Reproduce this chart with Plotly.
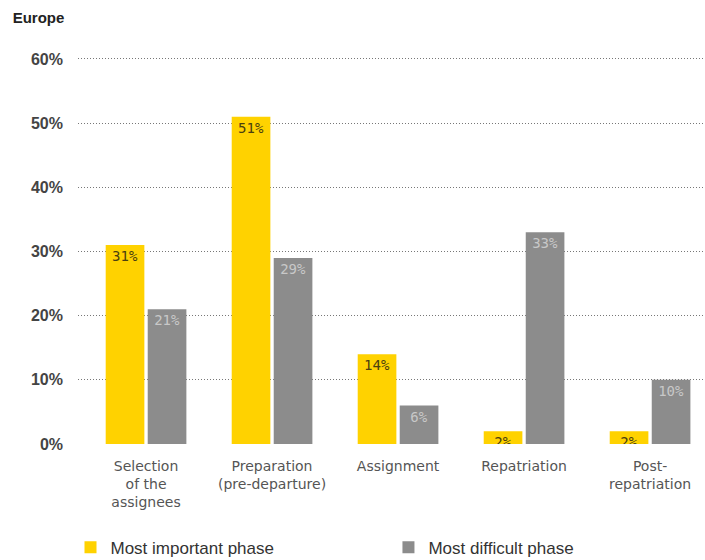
import plotly.graph_objects as go

categories = ["Selection<br>of the<br>assignees", "Preparation<br>(pre-departure)", "Assignment", "Repatriation", "Post-<br>repatriation"]
most_important = [31, 51, 14, 2, 2]
most_difficult = [21, 29, 6, 33, 10]
tick_vals = [0, 10, 20, 30, 40, 50, 60]
tick_text = ["0%", "10%", "20%", "30%", "40%", "50%", "60%"]

YELLOW = "#FFD200"
GRAY = "#8C8C8C"

fig = go.Figure()
fig.add_trace(go.Bar(
    x=list(range(len(categories))), y=most_important, name="Most important phase",
    marker=dict(color=YELLOW, line=dict(width=0)),
    text=[f"{v}%" for v in most_important], textposition="inside", insidetextanchor="end",
    constraintext="none", legend="legend",
    textfont=dict(family="DejaVu Sans Mono", size=14, color="#4a3f10"),
))
fig.add_trace(go.Bar(
    x=list(range(len(categories))), y=most_difficult, name="Most difficult phase",
    marker=dict(color=GRAY, line=dict(width=0)),
    text=[f"{v}%" for v in most_difficult], textposition="inside", insidetextanchor="end",
    constraintext="none", legend="legend2",
    textfont=dict(family="DejaVu Sans Mono", size=14, color="#c8c8c8"),
))

legend_common = dict(orientation="h", xref="container", yref="container",
                     xanchor="left", y=0.022, yanchor="middle",
                     font=dict(family="Liberation Sans", size=17, color="#333"), itemwidth=30)

fig.update_layout(
    width=705, height=560,
    margin=dict(l=78, r=0, t=50, b=116, autoexpand=False),
    plot_bgcolor="white", paper_bgcolor="white",
    barmode="group", bargap=0.333, bargroupgap=0.08,
    title=dict(text="<b>Europe</b>", xref="container", yref="container", x=0.018, xanchor="left",
               y=0.968, yanchor="middle", font=dict(family="Liberation Sans", size=15, color="#222")),
    xaxis=dict(
        tickmode="array", tickvals=list(range(len(categories))), ticktext=categories,
        range=[-0.54, 4.436], showgrid=False, zeroline=False, showline=False, ticks="",
        ticklabelstandoff=12,
        tickfont=dict(family="DejaVu Sans", size=14, color="#555"),
    ),
    yaxis=dict(
        range=[0, 61.4], tickmode="array", tickvals=tick_vals, ticktext=tick_text,
        showgrid=True, gridcolor="#777", griddash="1px,2px", gridwidth=1,
        zeroline=False, showline=False, ticks="", ticklabelstandoff=14,
        tickfont=dict(family="Liberation Sans", size=16, color="#444", weight="bold"),
    ),
    legend=dict(x=0.1, **legend_common),
    legend2=dict(x=0.551, **legend_common),
    showlegend=True,
)

fig.write_html("out.html")
